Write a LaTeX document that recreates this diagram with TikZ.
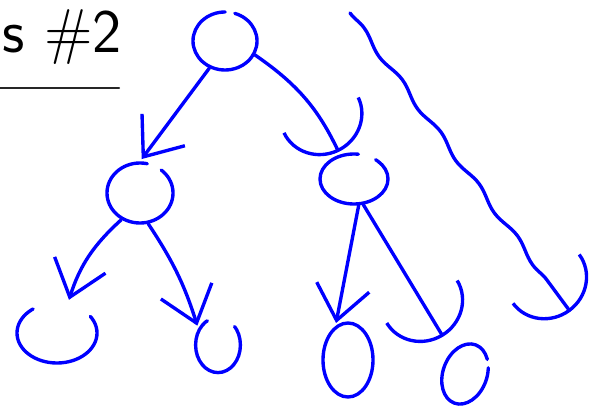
\documentclass[tikz,border=0pt]{standalone}
\usepackage{xcolor}
\usepackage{tikz}
\usetikzlibrary{arrows.meta,shapes.geometric,decorations.pathmorphing}

\begin{document}
\begin{tikzpicture}[x=0.025cm,y=0.025cm,->,shorten >=2pt,
                    line width=2.4pt,blue,line cap=round,
                    main node/.style={ellipse,draw,inner sep=0pt},
                    open top/.style 2 args={dash pattern=on #1 off #2 on 400pt},
                    vee head/.style={-{Straight Barb[length=24pt,width=38pt]}},
                    cup head/.style={-{Arc Barb[length=20pt,width=42pt,scale length=1.45,scale width=1.45]}}]
  \useasboundingbox (0,0) rectangle (605,409);

  % title
  \node (title) [anchor=base west,text=black,font=\sffamily\fontsize{44}{44}\selectfont]
    at (-4,356) {s \#2};
  \draw[-,black!85,line width=1.5pt] (0,321) -- (122,321);

  % the tree
  \node[main node,open top={27pt}{7pt},minimum width=1.6cm,minimum height=1.45cm] (1) at (225,368) {};
  \node[main node,open top={19pt}{11pt},minimum width=1.65cm,minimum height=1.5cm] (2) at (140,216) {};
  \node[main node,open top={17pt}{13pt},minimum width=1.7cm,minimum height=1.25cm] (3) at (354,230) {};
  \node[main node,open top={13pt}{44pt},minimum width=2cm,minimum height=1.5cm] (4) at (57,76) {};
  \node[main node,open top={14pt}{22pt},minimum width=1.12cm,minimum height=1.38cm] (5) at (218,64) {};
  \node[main node,minimum width=1.25cm,minimum height=1.85cm] (6) at (348,49) {};
  \node[main node,open top={10pt}{6pt},minimum width=1.1cm,minimum height=1.55cm,rotate=-20] (7) at (465,35) {};

  \path
    (1.240) edge [vee head] (2.north)
    (1.-25) edge [cup head,bend left=15] (3.120)
    (2.235) edge [vee head,bend right=15] (4.70)
    (2.-75) edge [vee head,bend left=8] (5.140)
    (3.-80) edge [vee head] (6.110)
    (3.-70) edge [cup head,shorten >=12pt] (7.140);

  % wavy one on the right
  \coordinate (w1) at (350,396);
  \coordinate (w2) at (572,95);
  \draw[cup head,decorate,decoration={snake,amplitude=1.8pt,segment length=46pt,post length=16pt}]
    (w1) -- (w2);
\end{tikzpicture}
\end{document}
